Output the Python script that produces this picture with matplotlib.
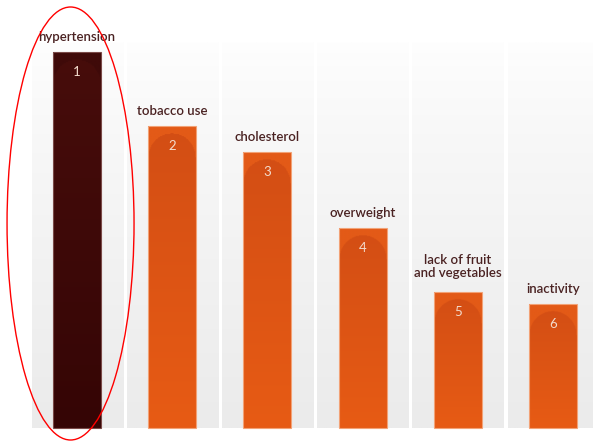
import numpy as np
import matplotlib.pyplot as plt
from matplotlib.patches import Ellipse, Rectangle
from matplotlib.colors import to_rgb

# datos del grafico (alturas relativas de las barras, ordenadas por rango)
categorias = ["hypertension", "tobacco use", "cholesterol", "overweight",
              "lack of fruit\nand vegetables", "inactivity"]
valores = [376, 302, 276, 200, 136, 124]
rangos = ["1", "2", "3", "4", "5", "6"]

plt.rcParams["font.family"] = ["Lato", "DejaVu Sans"]

fig = plt.figure(figsize=(5.93, 4.42), dpi=100)
ax = fig.add_axes([0, 0, 1, 1])
ax.set_axis_off()

x = np.arange(len(categorias))
ancho_barra = 0.504
ancho_panel = 0.956
tope_panel = 386

# paneles de fondo con degradado gris
grad = np.linspace(0, 1, 200).reshape(-1, 1)
arriba = np.array(to_rgb("#fefefe"))
abajo = np.array(to_rgb("#ebebeb"))
img_panel = (arriba * (1 - grad**0.8) + abajo * grad**0.8)[:, None, :]
img_panel = np.repeat(img_panel, 2, axis=1)
for xi in x:
    ax.imshow(img_panel, extent=[xi - ancho_panel / 2, xi + ancho_panel / 2, 0, tope_panel],
              origin="upper", aspect="auto", zorder=0, interpolation="bilinear")


def imagen_barra(alto, claro, oscuro, fondo):
    # imagen de la barra con un arco mas oscuro en la parte superior
    nh, nw = 300, 60
    yy = np.linspace(alto, 0, nh)[:, None]
    xx = np.linspace(-ancho_barra / 2, ancho_barra / 2, nw)[None, :]
    radio_y = 24.0
    cy = alto - 7 - radio_y
    dentro = ((xx / (ancho_barra / 2)) ** 2 + ((yy - cy) / radio_y) ** 2 <= 1) | (yy <= cy)
    t = np.clip((alto - yy) / max(alto, 1), 0, 1)
    c1 = np.array(to_rgb(oscuro))
    c2 = np.array(to_rgb(fondo))
    cuerpo = c1 * (1 - t[..., None]) + c2 * t[..., None]
    cuerpo = np.broadcast_to(cuerpo, (nh, nw, 3)).copy()
    cuerpo[~dentro] = to_rgb(claro)
    return cuerpo


for xi, v, cat, r in zip(x, valores, categorias, rangos):
    if xi == 0:
        img = imagen_barra(v, "#3f0a09", "#470d0b", "#350505")
        borde = "#7a4a48"
    else:
        img = imagen_barra(v, "#e35a17", "#d34e14", "#e75b15")
        borde = "#f2a276"
    ax.imshow(img, extent=[xi - ancho_barra / 2, xi + ancho_barra / 2, 0, v],
              origin="upper", aspect="auto", zorder=2, interpolation="bilinear")
    ax.add_patch(Rectangle((xi - ancho_barra / 2, 0), ancho_barra, v, fill=False,
                           edgecolor=borde, linewidth=0.8, zorder=3))
    ax.text(xi, v - 20, r, ha="center", va="center", color="#f3dccd", fontsize=9.5,
            zorder=4)
    # las etiquetas de dos lineas quedan un poco mas arriba
    extra = 4 if "\n" in cat else 0
    ax.text(xi, v + 9 + extra, cat, ha="center", va="bottom", color="#4a2222",
            fontsize=9.5, fontweight="semibold", linespacing=1.1, zorder=4)

# elipse roja resaltando el primer factor
ax.add_patch(Ellipse((-0.068, 204.5), 1.334, 433, fill=False, edgecolor="red",
                     linewidth=1.0, zorder=5))

ax.set_xlim(-0.809, 5.42)
ax.set_ylim(-14, 428)

fig.savefig("out.png", dpi=100)
